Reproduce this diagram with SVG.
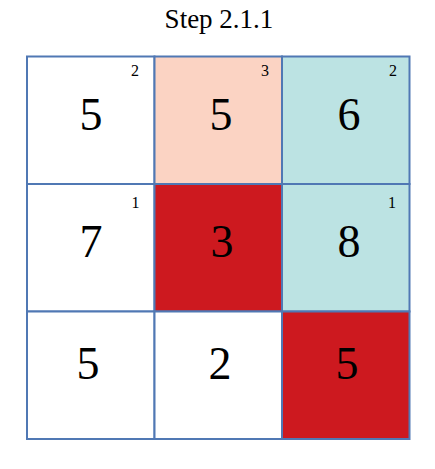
<svg xmlns="http://www.w3.org/2000/svg" width="435" height="469" viewBox="0 0 435 469">
<style>
.cell{stroke:#5078B4;stroke-width:2}
.big{font-family:"Liberation Serif","DejaVu Serif",serif;font-size:46px;text-anchor:middle;fill:#000}
.small{font-family:"Liberation Serif","DejaVu Serif",serif;font-size:16px;text-anchor:middle;fill:#000}
.title{font-family:"Liberation Serif","DejaVu Serif",serif;font-size:27px;text-anchor:middle;fill:#000}
</style>
<rect width="435" height="469" fill="#fff"/>
<text class="title" x="219" y="28">Step 2.1.1</text>
<g id="c11"><rect class="cell" x="27" y="56.5" width="127.5" height="127.5" fill="#fff"/><text class="big" x="91" y="130">5</text><text class="small" x="135" y="76">2</text></g>
<g id="c12"><rect class="cell" x="154.5" y="56.5" width="127.5" height="127.5" fill="#FBD3C3"/><text class="big" x="221" y="130">5</text><text class="small" x="265" y="76">3</text></g>
<g id="c13"><rect class="cell" x="282" y="56.5" width="127.5" height="127.5" fill="#BCE3E3"/><text class="big" x="349" y="130">6</text><text class="small" x="393" y="76">2</text></g>
<g id="c21"><rect class="cell" x="27" y="184" width="127.5" height="127.5" fill="#fff"/><text class="big" x="91" y="257">7</text><text class="small" x="135.5" y="208">1</text></g>
<g id="c22"><rect class="cell" x="154.5" y="184" width="127.5" height="127.5" fill="#CD191F"/><text class="big" x="222" y="257">3</text></g>
<g id="c23"><rect class="cell" x="282" y="184" width="127.5" height="127.5" fill="#BCE3E3"/><text class="big" x="349" y="257">8</text><text class="small" x="392" y="208">1</text></g>
<g id="c31"><rect class="cell" x="27" y="311.5" width="127.5" height="127.5" fill="#fff"/><text class="big" x="88" y="379">5</text></g>
<g id="c32"><rect class="cell" x="154.5" y="311.5" width="127.5" height="127.5" fill="#fff"/><text class="big" x="220" y="379">2</text></g>
<g id="c33"><rect class="cell" x="282" y="311.5" width="127.5" height="127.5" fill="#CD191F"/><text class="big" x="347" y="379">5</text></g>
<g id="connectors"/>
</svg>
